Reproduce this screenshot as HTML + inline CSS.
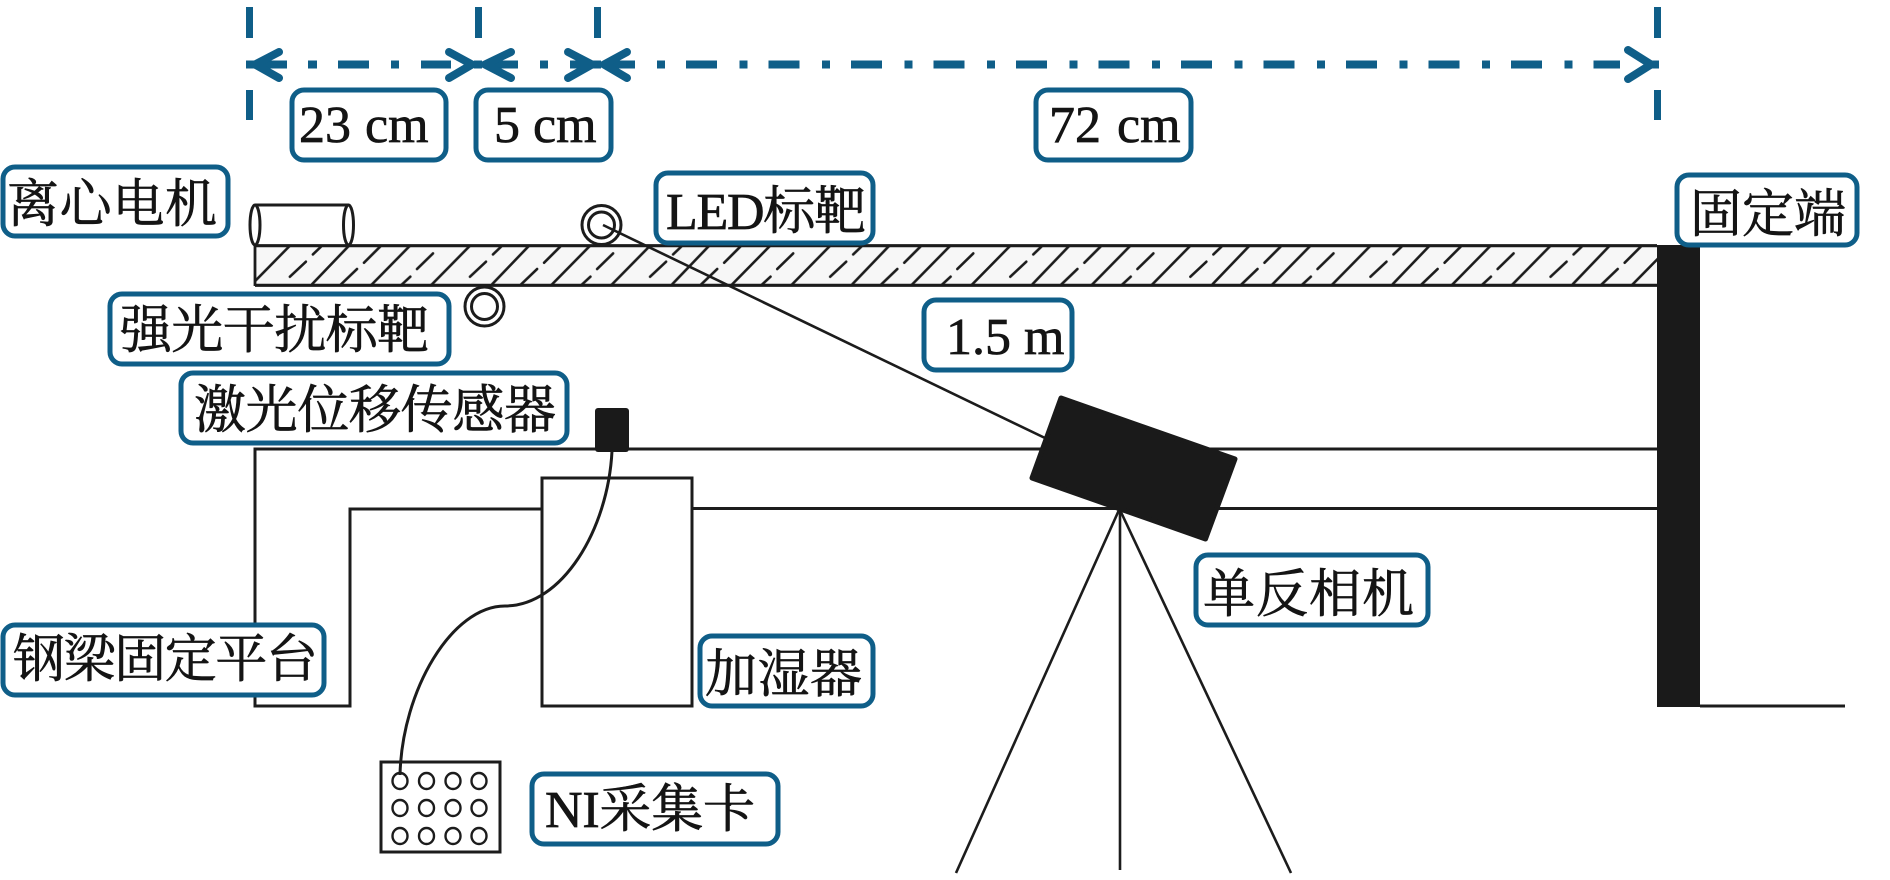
<!DOCTYPE html>
<html lang="zh">
<head>
<meta charset="utf-8">
<title>Diagram</title>
<style>
html,body{margin:0;padding:0;background:#fff;}
svg{display:block;}
text{font-family:"Liberation Serif","Noto Serif CJK SC",serif;font-size:52px;fill:#141414;stroke:#141414;stroke-width:0.7px;}
</style>
</head>
<body>
<svg xmlns="http://www.w3.org/2000/svg" width="1890" height="880" viewBox="0 0 1890 880">
<defs>
<pattern id="h" patternUnits="userSpaceOnUse" x="311" y="245.7" width="180.1" height="39.6">
<g stroke="#1c1c1c" stroke-width="2.6" fill="none" stroke-linecap="round">
<line x1="0" y1="39.6" x2="38" y2="0"/>
<line x1="30" y1="38.7" x2="46" y2="23.3"/>
<line x1="53" y1="17" x2="69" y2="1"/>
<line x1="60" y1="39.6" x2="99" y2="0"/>
<line x1="91" y1="38.7" x2="99.3" y2="31"/>
<line x1="106" y1="23.3" x2="122" y2="7.7"/>
<line x1="120" y1="39.6" x2="159" y2="0"/>
<line x1="159" y1="31" x2="175" y2="16"/>
<line x1="182" y1="8.7" x2="190" y2="1"/>
<line x1="1.9" y1="8.7" x2="9.9" y2="1"/>
</g>
</pattern>
</defs>
<rect width="1890" height="880" fill="#fff"/>

<!-- dimension ticks -->
<g fill="#0f5e88">
<rect x="246" y="7" width="7" height="31"/><rect x="246" y="90" width="7" height="30"/>
<rect x="475" y="7" width="7" height="31"/>
<rect x="594" y="7" width="7" height="31"/>
<rect x="1654" y="7" width="7" height="31"/><rect x="1654" y="90" width="7" height="30"/>
<rect x="246" y="60.5" width="8" height="8"/>
<rect x="474" y="60.5" width="8" height="8"/>
<rect x="593" y="60.5" width="8" height="8"/>
<rect x="1651" y="60.5" width="8" height="8"/>
<rect x="308" y="60.5" width="9" height="8"/>
<rect x="338" y="60.5" width="31" height="8"/>
<rect x="391" y="60.5" width="8" height="8"/>
<rect x="421" y="60.5" width="30" height="8"/>
<rect x="540" y="60.5" width="8" height="8"/>
<rect x="570" y="60.5" width="24" height="8"/>
<rect x="253" y="60.5" width="34" height="8"/>
<rect x="484" y="60.5" width="34" height="8"/>
<rect x="603" y="60.5" width="32" height="8"/>
</g>
<line x1="657" y1="64.5" x2="1620" y2="64.5" stroke="#0f5e88" stroke-width="8" stroke-dasharray="8 21 31 22.5"/>
<g fill="none" stroke="#0f5e88" stroke-width="8" stroke-linecap="round" stroke-linejoin="miter">
<polyline points="279,52 255,64.5 279,78"/>
<polyline points="449,52 472,64.5 449,78"/>
<polyline points="511,52 485,64.5 511,78"/>
<polyline points="568,52 592,64.5 568,78"/>
<polyline points="627,52 604,64.5 627,78"/>
<polyline points="1628,50 1651,64.5 1628,79"/>
</g>

<!-- beam -->
<rect x="255" y="245.7" width="1402" height="39.6" fill="#f7f7f7"/>
<rect x="255" y="245.7" width="1402" height="39.6" fill="url(#h)"/>
<g stroke="#1c1c1c" fill="none">
<line x1="255" y1="245.7" x2="1657" y2="245.7" stroke-width="3.2"/>
<line x1="255" y1="285.3" x2="1657" y2="285.3" stroke-width="3.2"/>
<line x1="255" y1="245" x2="255" y2="286" stroke-width="2.8"/>
</g>

<!-- motor -->
<g stroke="#1c1c1c" stroke-width="3" fill="none">
<line x1="255" y1="205" x2="349" y2="205"/>
<ellipse cx="255" cy="225" rx="5" ry="20"/>
<ellipse cx="348.500" cy="225" rx="5" ry="20"/>
</g>

<!-- targets -->
<g stroke="#1c1c1c" fill="#fff">
<circle cx="601.500" cy="225" r="19.500" stroke-width="3"/>
<circle cx="601.500" cy="225" r="13" stroke-width="3"/>
<circle cx="484.500" cy="306.500" r="19.500" stroke-width="3"/>
<circle cx="484.500" cy="306.500" r="13" stroke-width="3"/>
</g>
<line x1="603" y1="225" x2="1045" y2="438" stroke="#1c1c1c" stroke-width="2.6"/>

<!-- platform frame -->
<g stroke="#1c1c1c" stroke-width="3" fill="none">
<polyline points="1657,449 255,449 255,706 350,706 350,509 542,509"/>
<line x1="692" y1="508.500" x2="1657" y2="508.500"/>
<rect x="542" y="478" width="150" height="228" fill="#fff"/>
</g>

<!-- sensor + cable -->
<rect x="595" y="408" width="34" height="44" rx="3" fill="#1a1a1a"/>
<path d="M612 451 C608 530 562 606 505 606 C452 606 402 690 400 775" fill="none" stroke="#1c1c1c" stroke-width="3"/>

<!-- NI card -->
<rect x="381" y="762" width="119" height="90" fill="none" stroke="#1c1c1c" stroke-width="3"/>
<g fill="none" stroke="#1c1c1c" stroke-width="2.4">
<ellipse cx="400" cy="781" rx="7.500" ry="8"/><ellipse cx="426.500" cy="781" rx="7.500" ry="8"/><ellipse cx="453" cy="781" rx="7.500" ry="8"/><ellipse cx="479" cy="781" rx="7.500" ry="8"/>
<ellipse cx="400" cy="808" rx="7.500" ry="8"/><ellipse cx="426.500" cy="808" rx="7.500" ry="8"/><ellipse cx="453" cy="808" rx="7.500" ry="8"/><ellipse cx="479" cy="808" rx="7.500" ry="8"/>
<ellipse cx="400" cy="836" rx="7.500" ry="8"/><ellipse cx="426.500" cy="836" rx="7.500" ry="8"/><ellipse cx="453" cy="836" rx="7.500" ry="8"/><ellipse cx="479" cy="836" rx="7.500" ry="8"/>
</g>

<!-- column and ground -->
<rect x="1657" y="245" width="43" height="462" fill="#1a1a1a"/>
<line x1="1700" y1="706" x2="1845" y2="706" stroke="#1c1c1c" stroke-width="3"/>

<!-- camera + tripod -->
<g stroke="#1c1c1c" stroke-width="2.6">
<line x1="1119" y1="510" x2="956" y2="873"/>
<line x1="1120" y1="510" x2="1120" y2="870"/>
<line x1="1120" y1="510" x2="1291" y2="873"/>
</g>
<polygon points="1061,398 1235,459 1205.500,539 1032,478" fill="#1a1a1a" stroke="#1a1a1a" stroke-width="5" stroke-linejoin="round"/>

<!-- labels -->
<g fill="#fff" stroke="#0f5e88" stroke-width="5">
<rect x="292" y="90" width="154" height="70" rx="12"/>
<rect x="476" y="90" width="135" height="70" rx="12"/>
<rect x="1036" y="90" width="155" height="70" rx="12"/>
<rect x="3" y="167" width="225" height="69" rx="12"/>
<rect x="656" y="173" width="217" height="70" rx="12"/>
<rect x="1677" y="175" width="180" height="70" rx="12"/>
<rect x="110" y="294" width="339" height="70" rx="12"/>
<rect x="924" y="300" width="148" height="70" rx="12"/>
<rect x="181" y="373" width="386" height="70" rx="12"/>
<rect x="3" y="625" width="321" height="70" rx="12"/>
<rect x="700" y="636" width="173" height="70" rx="12"/>
<rect x="532" y="774" width="246" height="70" rx="12"/>
<rect x="1196" y="555" width="232" height="70" rx="12"/>
</g>
<text x="299" y="142">23</text><text x="365" y="142">cm</text>
<text x="494" y="142">5</text><text x="533" y="142">cm</text>
<text x="1049" y="142">72</text><text x="1117" y="142">cm</text>
<text x="7" y="222" textLength="210">离心电机</text>
<text x="666" y="229" textLength="200">LED标靶</text>
<text x="1690" y="232" textLength="156">固定端</text>
<text x="120" y="348" textLength="309">强光干扰标靶</text>
<text x="946" y="354">1.5</text><text x="1024" y="354">m</text>
<text x="194" y="428" textLength="362">激光位移传感器</text>
<text x="13" y="677" textLength="305">钢梁固定平台</text>
<text x="705" y="692" textLength="157">加湿器</text>
<text x="545" y="827" textLength="210">NI采集卡</text>
<text x="1203" y="612" textLength="211">单反相机</text>
</svg>
</body>
</html>
